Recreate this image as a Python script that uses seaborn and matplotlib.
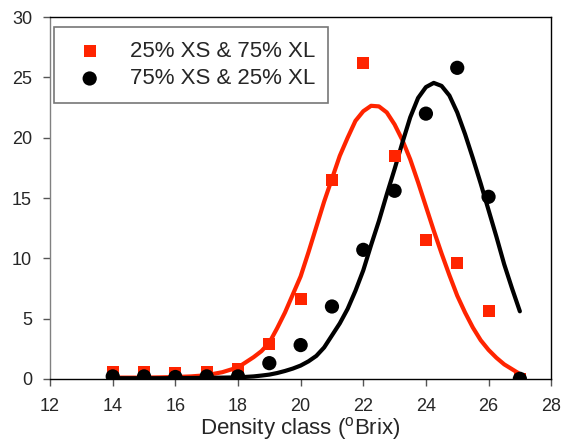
import numpy as np
import pandas as pd
import matplotlib
matplotlib.use("Agg")
import matplotlib.pyplot as plt
import seaborn as sns

# measured points per density class
density_class = [14, 15, 16, 17, 18, 19, 20, 21, 22, 23, 24, 25, 26, 27]
xs25_xl75 = [0.55, 0.55, 0.5, 0.55, 0.85, 2.9, 6.65, 16.5, 26.2, 18.5, 11.5, 9.6, 5.6, 0.0]
xs75_xl25 = [0.2, 0.2, 0.15, 0.2, 0.2, 1.3, 2.8, 6.0, 10.7, 15.6, 22.0, 25.8, 15.1, 0.0]

# fitted curves
curve_x = [14, 14.5, 15, 15.5, 16, 16.5, 17, 17.5, 18, 18.5,
           18.75, 19, 19.25, 19.5, 19.75, 20, 20.25, 20.5, 20.75, 21, 21.25, 21.5, 21.75,
           22, 22.25, 22.5, 22.75, 23, 23.25, 23.5, 23.75, 24, 24.25, 24.5, 24.75,
           25, 25.25, 25.5, 25.75, 26, 26.25, 26.5, 26.75, 27]
fit_xs25 = [0.1, 0.1, 0.1, 0.12, 0.15, 0.2, 0.3, 0.55, 0.95, 1.8,
            2.3, 3.0, 4.2, 5.5, 7.0, 8.5, 10.5, 12.6, 14.7, 16.6, 18.5, 20.0, 21.4,
            22.2, 22.65, 22.6, 22.1, 21.1, 19.8, 18.2, 16.3, 14.3, 12.3, 10.4, 8.6,
            6.9, 5.5, 4.25, 3.2, 2.4, 1.75, 1.2, 0.8, 0.4]
fit_xs75 = [0.05, 0.05, 0.05, 0.05, 0.06, 0.07, 0.08, 0.1, 0.12, 0.2,
            0.27, 0.35, 0.48, 0.65, 0.85, 1.1, 1.45, 1.9, 2.6, 3.6, 4.6, 5.8, 7.3,
            9.0, 11.1, 13.1, 15.3, 17.4, 19.6, 21.7, 23.3, 24.2, 24.55, 24.3, 23.5,
            22.1, 20.3, 18.3, 16.2, 14.0, 11.8, 9.5, 7.5, 5.6]

RED = "#FF2400"

sns.set_style("ticks")
plt.rcParams["font.family"] = ["Liberation Sans", "DejaVu Sans"]
plt.rcParams["mathtext.fontset"] = "custom"
plt.rcParams["mathtext.rm"] = "Liberation Sans"

pts = pd.DataFrame({"x": density_class, "a": xs25_xl75, "b": xs75_xl25})
fit = pd.DataFrame({"x": curve_x, "a": fit_xs25, "b": fit_xs75})

fig = plt.figure(figsize=(5.63, 4.41), dpi=100)
ax = fig.add_axes([0.089, 0.141, 0.890, 0.820])

sns.lineplot(data=fit, x="x", y="a", color=RED, linewidth=3, legend=False, ax=ax, zorder=2)
sns.lineplot(data=fit, x="x", y="b", color="black", linewidth=3, legend=False, ax=ax, zorder=2)
sns.scatterplot(data=pts, x="x", y="a", marker="s", s=75, color=RED, edgecolor="none",
                label="25% XS & 75% XL", ax=ax, zorder=3)
sns.scatterplot(data=pts, x="x", y="b", marker="o", s=105, color="black", edgecolor="none",
                label="75% XS & 25% XL", ax=ax, zorder=4)

ax.set_xlim(12, 28)
ax.set_ylim(0, 30)
ax.set_xticks(range(12, 29, 2))
ax.set_yticks(range(0, 31, 5))
ax.tick_params(labelsize=13, length=5, width=1, color="#555555")
ax.tick_params(axis="x", pad=9)
ax.tick_params(axis="y", pad=8)
ax.set_xlabel("Density class ($^{\\mathrm{o}}$Brix)", fontsize=16, labelpad=-0.5)
ax.set_ylabel("")

for side in ["top", "right", "bottom"]:
    ax.spines[side].set_visible(True)
    ax.spines[side].set_color("black")
    ax.spines[side].set_linewidth(1)
ax.spines["left"].set_color("#808080")
ax.spines["left"].set_linewidth(1)

leg = ax.legend(loc="upper left", bbox_to_anchor=(0.008, 0.972), fontsize=16,
                frameon=True, fancybox=False, shadow=False, borderpad=0.6,
                handlelength=2.0, handletextpad=0.8, labelspacing=0.3, borderaxespad=0)
leg.get_frame().set_edgecolor("#555555")
leg.get_frame().set_linewidth(1.2)

plt.savefig("out.png", dpi=100)
plt.close()
